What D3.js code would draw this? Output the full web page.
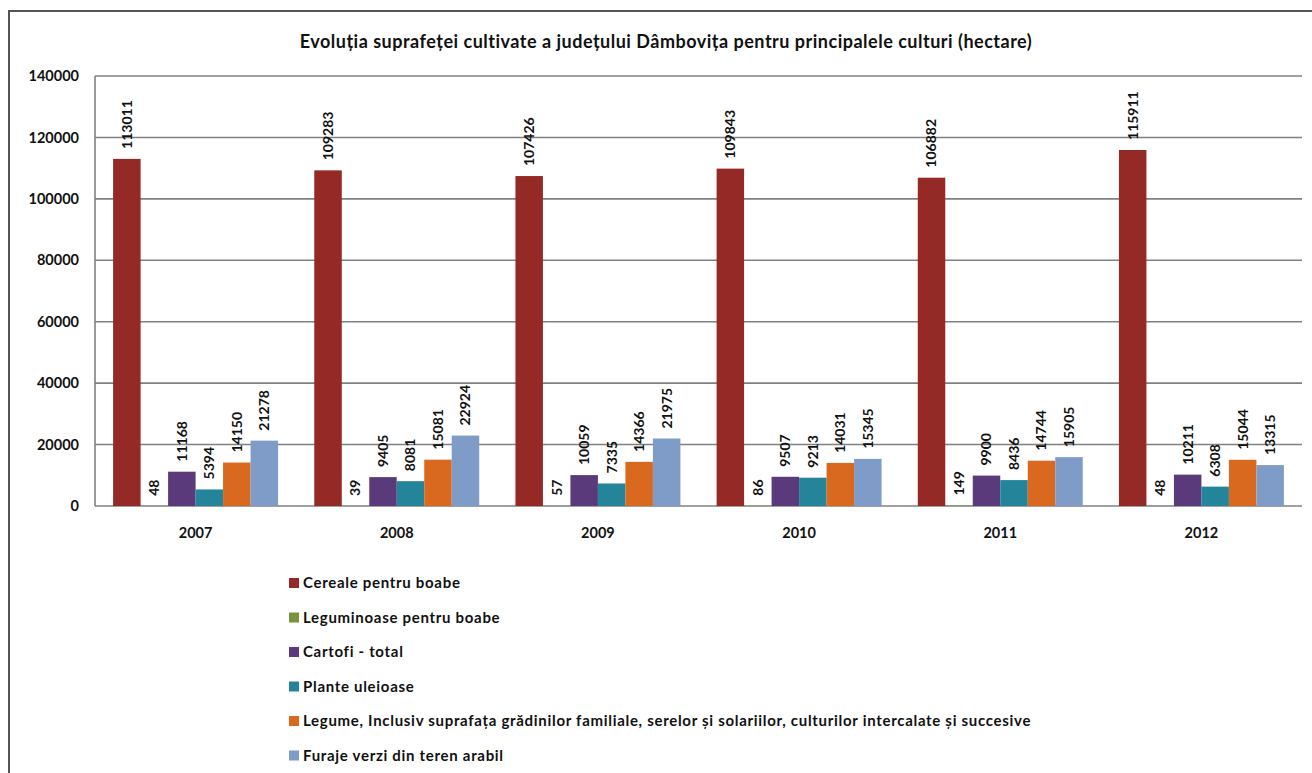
<!DOCTYPE html>
<html>
<head>
<meta charset="utf-8">
<script src="https://cdn.jsdelivr.net/npm/d3@7"></script>
<style>
  body { margin: 0; background: #fff; }
  text { font-family: Lato, "Open Sans", sans-serif; font-weight: bold; fill: #111; }
</style>
</head>
<body>
<div id="chart"></div>
<script>
const years = ["2007", "2008", "2009", "2010", "2011", "2012"];
const seriesNames = [
    "Cereale pentru boabe",
    "Leguminoase pentru boabe",
    "Cartofi - total",
    "Plante uleioase",
    "Legume, Inclusiv suprafața grădinilor familiale, serelor și solariilor, culturilor intercalate și succesive",
    "Furaje verzi din teren arabil"
];
const cereale = [113011, 109283, 107426, 109843, 106882, 115911];
const leguminoase = [48, 39, 57, 86, 149, 48];
const cartofi = [11168, 9405, 10059, 9507, 9900, 10211];
const planteUleioase = [5394, 8081, 7335, 9213, 8436, 6308];
const legume = [14150, 15081, 14366, 14031, 14744, 15044];
const furaje = [21278, 22924, 21975, 15345, 15905, 13315];
const yTicks = [0, 20000, 40000, 60000, 80000, 100000, 120000, 140000];

const colors = ["#952926", "#77933c", "#5b3a7b", "#23849a", "#d8691f", "#7f9bc8"];
const seriesValues = [cereale, leguminoase, cartofi, planteUleioase, legume, furaje];

const W = 1312, H = 773;
const plot = { left: 95, right: 1302, top: 76, bottom: 506 };

const svg = d3.select("#chart")
    .append("svg")
    .attr("width", W)
    .attr("height", H);

// outer frame (only top and left edges are visible in the crop)
svg.append("path")
    .attr("d", `M9,${H} L9,11 L${W},11`)
    .attr("fill", "none")
    .attr("stroke", "#555")
    .attr("stroke-width", 2);

svg.append("text")
    .attr("x", 666)
    .attr("y", 48)
    .attr("text-anchor", "middle")
    .style("font-size", "18px")
    .style("letter-spacing", "0.5px")
    .text("Evoluția suprafeței cultivate a județului Dâmbovița pentru principalele culturi (hectare)");

const x0 = d3.scaleBand()
    .domain(years)
    .range([plot.left, plot.right])
    .paddingInner(0.18)
    .paddingOuter(0.09);

const x1 = d3.scaleBand()
    .domain(d3.range(seriesNames.length))
    .range([0, x0.bandwidth()]);

const y = d3.scaleLinear()
    .domain([0, 140000])
    .range([plot.bottom, plot.top]);

// gridlines
svg.append("g")
    .selectAll("line")
    .data(yTicks)
    .enter().append("line")
    .attr("x1", plot.left)
    .attr("x2", plot.right)
    .attr("y1", d => y(d))
    .attr("y2", d => y(d))
    .attr("stroke", "#808080")
    .attr("stroke-width", 1.6);

// left axis line
svg.append("line")
    .attr("x1", plot.left).attr("x2", plot.left)
    .attr("y1", plot.top).attr("y2", plot.bottom)
    .attr("stroke", "#808080")
    .attr("stroke-width", 1.6);

const yAxis = svg.append("g")
    .attr("transform", `translate(${plot.left}, 0)`)
    .call(d3.axisLeft(y).tickValues(yTicks).tickFormat(d3.format("d")).tickSize(0).tickPadding(16));
yAxis.select(".domain").remove();
yAxis.selectAll("text")
    .style("font-size", "14.5px")
    .style("font-family", "Lato, sans-serif")
    .style("font-weight", "bold")
    .attr("fill", "#111");

const xAxis = svg.append("g")
    .attr("transform", `translate(0, ${plot.bottom})`)
    .call(d3.axisBottom(x0).tickSize(0).tickPadding(22));
xAxis.select(".domain").remove();
xAxis.selectAll("text")
    .style("font-size", "14.5px")
    .style("font-family", "Lato, sans-serif")
    .style("font-weight", "bold")
    .attr("fill", "#111");

const groups = svg.append("g")
    .selectAll("g")
    .data(years)
    .enter().append("g")
    .attr("transform", d => `translate(${x0(d)}, 0)`);

const cells = groups.selectAll("g")
    .data((d, i) => seriesValues.map((vals, s) => ({ s: s, value: vals[i] })))
    .enter().append("g");

cells.append("rect")
    .attr("x", d => x1(d.s))
    .attr("width", x1.bandwidth())
    .attr("y", d => y(d.value))
    .attr("height", d => plot.bottom - y(d.value))
    .attr("fill", d => colors[d.s]);

cells.append("text")
    .attr("transform", d => `translate(${x1(d.s) + x1.bandwidth() / 2}, ${y(d.value) - 10}) rotate(-90)`)
    .attr("dy", "0.35em")
    .attr("text-anchor", "start")
    .style("font-size", "14px")
    .text(d => d.value);

// legend
const legend = svg.append("g")
    .attr("transform", "translate(289, 583)");

const item = legend.selectAll("g")
    .data(seriesNames)
    .enter().append("g")
    .attr("transform", (d, i) => `translate(0, ${i * 34.5})`);

item.append("rect")
    .attr("x", 0)
    .attr("y", -5)
    .attr("width", 10)
    .attr("height", 10)
    .attr("fill", (d, i) => colors[i]);

item.append("text")
    .attr("x", 14)
    .attr("dy", "0.35em")
    .style("font-size", "15px")
    .style("letter-spacing", "0.7px")
    .text(d => d);
</script>
</body>
</html>
